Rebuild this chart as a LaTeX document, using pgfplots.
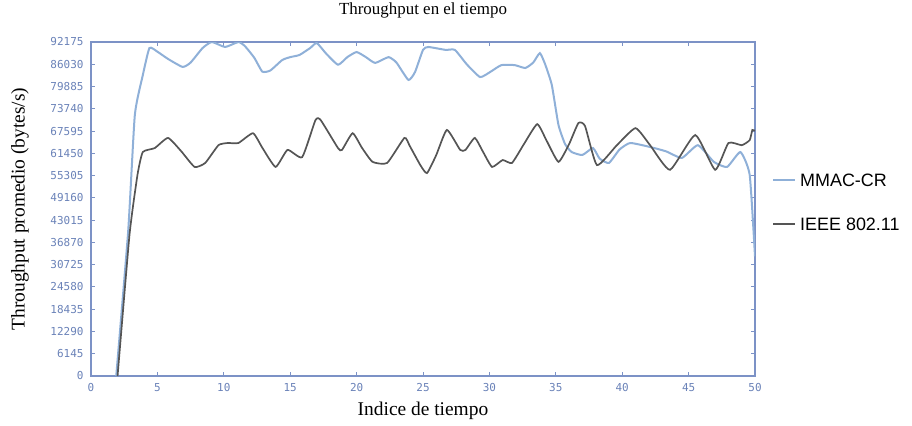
\documentclass[border=0pt]{standalone}
\usepackage{fontspec}
\setmainfont{Liberation Serif}
\newfontfamily\legfont{Liberation Sans}
\newfontfamily\tickfont{DejaVu Sans Mono}
\usepackage{pgfplots}
\pgfplotsset{compat=1.18}
\definecolor{axblue}{HTML}{7C92C6}
\definecolor{tickblue}{HTML}{6A82B8}
\definecolor{mmac}{HTML}{8FB0D8}
\definecolor{ieee}{HTML}{555555}

\begin{document}
\begin{tikzpicture}
\useasboundingbox (-91bp,-50bp) rectangle (821bp,376bp);
\begin{axis}[
  scale only axis, width=664bp, height=334bp,
  xmin=0, xmax=50, ymin=0, ymax=92175,
  scaled y ticks=false,
  axis line style={axblue, line width=1.2bp},
  tick style={axblue, line width=1bp},
  major tick length=4bp,
  tick align=inside, tick pos=both,
  xtick={0,5,...,50},
  ytick={0,6145,12290,18435,24580,30725,36870,43015,49160,55305,61450,67595,73740,79885,86030,92175},
  yticklabels={0,6145,12290,18435,24580,30725,36870,43015,49160,55305,61450,67595,73740,79885,86030,92175},
  ticklabel style={font=\tickfont\fontsize{11}{11}\selectfont, text=tickblue},
  /pgf/number format/assume math mode=true,
  xticklabel style={yshift=-4bp},
  yticklabel style={xshift=-4bp},
  title={Throughput en el tiempo},
  title style={font=\fontsize{17}{17}\selectfont, at={(axis description cs:0.5,1.078)}, anchor=center},
  xlabel={Indice de tiempo},
  xlabel style={font=\fontsize{19.5}{19.5}\selectfont, at={(axis description cs:0.5,-0.105)}, anchor=center},
  ylabel={Throughput promedio (bytes/s)},
  ylabel style={font=\fontsize{19.5}{19.5}\selectfont, at={(axis description cs:-0.107,0.5)}, anchor=center},
  legend style={at={(axis description cs:1.0256,0.521)}, anchor=west, draw=none, fill=none,
    inner sep=0pt, font=\legfont\fontsize{18}{18}\selectfont, row sep=31bp,
    nodes={inner sep=0pt, text height=13bp, text depth=0bp}},
  legend cell align=left,
  legend image code/.code={\draw[#1] (0bp,0bp) -- (22bp,0bp); \path (26bp,0bp);},
]
\addplot[mmac, line width=2bp, smooth, tension=0.3] table {
1.9 0
2.8 40000
3.3 72000
3.9 83000
4.4 90500
5.0 89500
5.8 87500
6.9 85300
7.5 86500
8.4 90500
9.1 92175
10.1 90800
11.1 92175
11.6 91000
12.3 87800
12.9 84000
13.5 84300
14.4 87200
15.0 88000
15.7 88600
16.5 90500
17.0 91900
17.7 89000
18.6 85900
19.3 88000
20.0 89400
20.7 88000
21.4 86400
22.4 88000
23.0 86500
23.9 81700
24.4 83900
25.0 90000
25.4 90800
26.7 90000
27.4 90000
28.3 86000
29.3 82500
30.1 84000
30.9 85800
31.9 85800
32.7 85000
33.3 86500
33.8 89100
34.2 86000
34.7 80300
35.2 69300
35.7 64000
36.2 61800
37.0 61000
37.8 62900
38.3 60000
39.0 58800
39.8 62500
40.6 64300
42.1 63200
43.3 62000
44.5 60200
45.7 63700
46.9 59100
47.9 57700
48.9 61800
49.6 55500
50.0 33000
};
\addlegendentry{MMAC-CR}
\addplot[ieee, line width=1.7bp, smooth, tension=0.3] table {
2.0 0
2.9 39000
3.5 55500
3.9 61800
4.8 62900
5.8 65700
6.8 62000
7.8 57700
8.6 58800
9.6 63700
10.3 64300
11.1 64300
12.2 67000
12.9 63000
13.9 57700
14.8 62400
15.9 60400
16.9 70600
17.3 70600
18.6 62900
18.9 62400
19.7 67000
20.4 63000
21.2 59100
22.3 58800
23.6 65700
24.0 63500
24.8 58200
25.3 56000
26.0 61000
26.8 67900
27.8 62400
28.2 62400
28.9 65700
29.5 62000
30.2 57700
31.0 59600
31.7 58800
32.6 64000
33.6 69500
34.3 65000
35.2 59100
36.0 64000
36.7 69800
37.2 69000
38.1 58200
39.6 63700
41.0 68400
42.1 63700
43.6 56900
45.5 66500
47.0 56900
48.0 64300
49.0 63700
49.6 65100
49.8 67900
50.0 67600
};
\addlegendentry{IEEE 802.11}
\end{axis}
\end{tikzpicture}
\end{document}
